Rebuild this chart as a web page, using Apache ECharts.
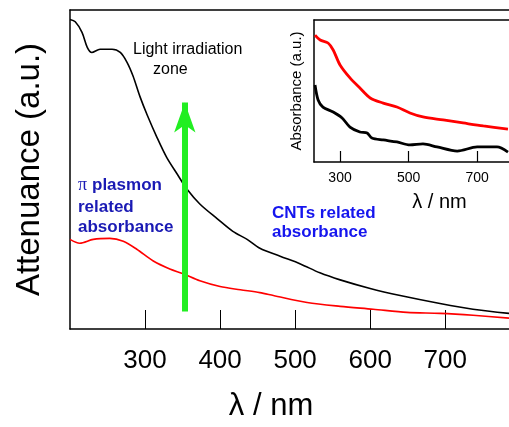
<!DOCTYPE html>
<html>
<head>
<meta charset="utf-8">
<script src="https://cdn.jsdelivr.net/npm/echarts@6/dist/echarts.min.js"></script>
<style>
  html, body { margin: 0; padding: 0; background: #fff; }
  #chart { width: 509px; height: 427px; }
</style>
</head>
<body>
<div id="chart"></div>
<script>
// main panel: attenuance (a.u.)
const mainTicks = [300, 400, 500, 600, 700];
const blackWl = [200, 207, 216, 223, 229, 240, 256, 267, 276, 284, 293, 303, 316, 329, 343, 356, 373, 396, 417, 436, 453, 480, 507, 533, 560, 600, 640, 693, 737, 785];
const blackVal = [97, 96.3, 93, 88.3, 86.7, 87.7, 87.7, 86.7, 83.6, 79.3, 73, 67, 60, 53.7, 48.5, 43.8, 39.2, 34.6, 30.6, 28.1, 25.3, 22.8, 20.4, 17.6, 15.4, 12.7, 10.5, 8, 6.2, 4.9];
const redWl = [200, 213, 231, 253, 271, 289, 311, 333, 351, 373, 400, 427, 453, 471, 516, 560, 604, 649, 693, 737, 785];
const redVal = [28.1, 26.9, 28.1, 28.4, 27.5, 25, 21.3, 18.8, 17.3, 15.1, 13.3, 12.3, 11.4, 10.5, 8.3, 7.1, 6.2, 5.2, 4.9, 4.3, 3.4];

// irradiation arrow (nm, from -> to)
const arrowWl = 353;
const arrowFrom = 5.5;
const arrowTo = 71;

// inset: absorbance (a.u.)
const insetTicks = [300, 500, 700];
const insetRedWl = [227, 242, 265, 280, 300, 329, 358, 388, 426, 466, 504, 542, 601, 659, 718, 790];
const insetRedVal = [89.4, 85.9, 83.8, 78.9, 68.3, 59.2, 52.1, 45.1, 41.5, 38.7, 34.5, 31.7, 29.6, 27.5, 25.4, 23.2];
const insetBlackWl = [227, 236, 250, 280, 306, 329, 358, 379, 393, 426, 466, 504, 542, 583, 642, 700, 758, 790];
const insetBlackVal = [54.2, 43.7, 38.7, 35.2, 31, 24.6, 21.1, 20.4, 16.9, 15.5, 14.1, 12, 12.7, 10.6, 7.7, 10.6, 10.6, 7];

const pairs = (xs, ys) => xs.map((x, i) => [x, ys[i]]);
const font = 'Arial, "Liberation Sans", sans-serif';

const chart = echarts.init(document.getElementById('chart'));

const lineAxis = { show: true, lineStyle: { color: '#000', width: 1.5 } };

chart.setOption({
    animation: false,
    grid: [
        { left: 70, top: 10, right: 0, bottom: 93 },
        { left: 314, top: 20, right: 0, bottom: 265 }
    ],
    xAxis: [
        {
            gridIndex: 0, type: 'value', min: 200, max: 785,
            axisLine: lineAxis,
            axisTick: { show: true, inside: true, length: 19, customValues: mainTicks, lineStyle: { color: '#000', width: 1 } },
            axisLabel: { customValues: mainTicks, margin: 19, fontSize: 26, color: '#000', fontFamily: font },
            splitLine: { show: false },
            name: 'λ / nm', nameLocation: 'middle', nameGap: 62,
            nameTextStyle: { fontSize: 31, color: '#000', fontFamily: font, padding: [0, 37, 0, 0] }
        },
        {
            gridIndex: 0, type: 'value', min: 200, max: 785, position: 'top',
            axisLine: lineAxis, axisTick: { show: false }, axisLabel: { show: false }, splitLine: { show: false }
        },
        {
            gridIndex: 1, type: 'value', min: 224, max: 793,
            axisLine: lineAxis,
            axisTick: { show: true, inside: true, length: 11, customValues: insetTicks, lineStyle: { color: '#000', width: 1.2 } },
            axisLabel: { customValues: insetTicks, margin: 9, fontSize: 14, color: '#000', fontFamily: font },
            splitLine: { show: false },
            name: 'λ / nm', nameLocation: 'middle', nameGap: 30,
            nameTextStyle: { fontSize: 20, color: '#000', fontFamily: font, padding: [0, 0, 0, 56] }
        },
        {
            gridIndex: 1, type: 'value', min: 224, max: 793, position: 'top',
            axisLine: lineAxis, axisTick: { show: false }, axisLabel: { show: false }, splitLine: { show: false }
        }
    ],
    yAxis: [
        {
            gridIndex: 0, type: 'value', min: 0, max: 100,
            axisLine: lineAxis, axisTick: { show: false }, axisLabel: { show: false }, splitLine: { show: false },
            name: 'Attenuance (a.u.)', nameLocation: 'middle', nameGap: 24,
            nameTextStyle: { fontSize: 33, color: '#000', fontFamily: font }
        },
        {
            gridIndex: 1, type: 'value', min: 0, max: 100,
            axisLine: lineAxis, axisTick: { show: false }, axisLabel: { show: false }, splitLine: { show: false },
            name: 'Absorbance (a.u.)', nameLocation: 'middle', nameGap: 10,
            nameTextStyle: { fontSize: 15, color: '#000', fontFamily: font }
        }
    ],
    series: [
        {
            type: 'line', xAxisIndex: 0, yAxisIndex: 0, data: pairs(redWl, redVal),
            smooth: 0.3, showSymbol: false, lineStyle: { color: '#ff0000', width: 1.6 }
        },
        {
            type: 'line', xAxisIndex: 0, yAxisIndex: 0, data: pairs(blackWl, blackVal),
            smooth: 0.3, showSymbol: false, lineStyle: { color: '#000', width: 1.6 },
            markLine: {
                silent: true,
                symbol: ['none', 'arrow'],
                symbolSize: [16, 30],
                label: { show: false },
                lineStyle: { color: '#22ee22', width: 6, type: 'solid' },
                data: [[{ coord: [arrowWl, arrowFrom] }, { coord: [arrowWl, arrowTo] }]]
            }
        },
        {
            type: 'line', xAxisIndex: 2, yAxisIndex: 1, data: pairs(insetRedWl, insetRedVal),
            smooth: 0.3, showSymbol: false, lineStyle: { color: '#ff0000', width: 2.8 }
        },
        {
            type: 'line', xAxisIndex: 2, yAxisIndex: 1, data: pairs(insetBlackWl, insetBlackVal),
            smooth: 0.3, showSymbol: false, lineStyle: { color: '#000', width: 2.8 }
        }
    ],
    graphic: [
        { type: 'text', left: 133, top: 42, style: { text: 'Light irradiation', fontSize: 16, fill: '#000', fontFamily: font } },
        { type: 'text', left: 153, top: 62, style: { text: 'zone', fontSize: 16, fill: '#000', fontFamily: font } },
        { type: 'text', left: 78, top: 176, style: { text: 'π', fontSize: 18, fill: '#1a1ab4', fontFamily: '"Liberation Serif", serif' } },
        { type: 'text', left: 92, top: 177, style: { text: 'plasmon', fontSize: 17, fontWeight: 'bold', fill: '#1a1ab4', fontFamily: font } },
        { type: 'text', left: 78, top: 197, style: { text: 'related\nabsorbance', fontSize: 17, lineHeight: 20, fontWeight: 'bold', fill: '#1a1ab4', fontFamily: font } },
        { type: 'text', left: 272, top: 204, style: { text: 'CNTs related\nabsorbance', fontSize: 17, lineHeight: 19, fontWeight: 'bold', fill: '#1515ee', fontFamily: font } }
    ]
});
</script>
</body>
</html>
